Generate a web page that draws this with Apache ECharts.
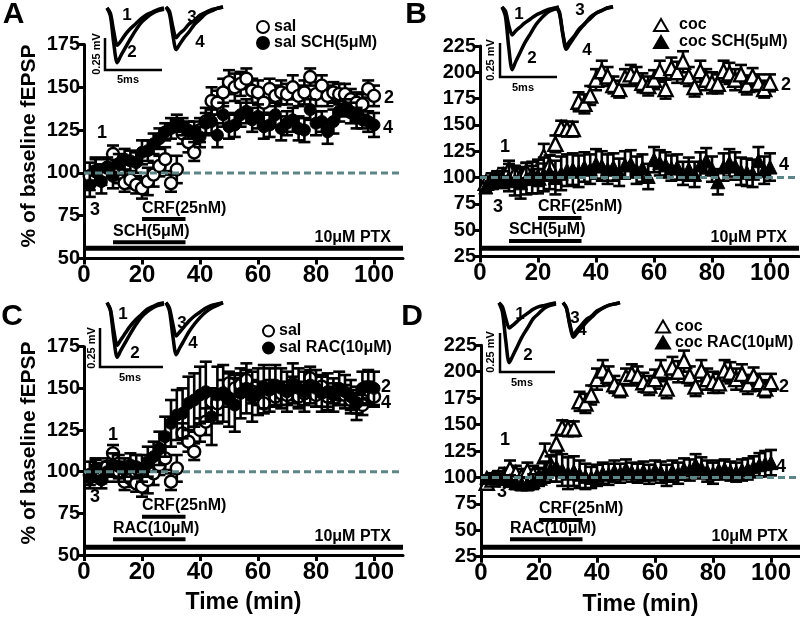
<!DOCTYPE html>
<html><head><meta charset="utf-8">
<script src="https://cdn.jsdelivr.net/npm/echarts@6/dist/echarts.min.js"></script>
<style>html,body{margin:0;padding:0;background:#fff}#c{width:800px;height:619px}</style>
</head><body><div id="c"></div>
<script>
// ---------- DATA ----------
const times = [2,4,6,8,10,12,14,16,18,20,22,24,26,28,30,32,34,36,38,40,42,44,46,48,50,52,54,56,58,60,62,64,66,68,70,72,74,76,78,80,82,84,86,88,90,92,94,96,98,100];
const xTicks = [0,20,40,60,80,100];
const yTicksSal = [50,75,100,125,150,175];
const yTicksCoc = [25,50,75,100,125,150,175,200,225];

const salVals = [98,101,99,103,111,100,94,96,93,91,95,99,104,108,94,102,123,118,112,125,130,142,141,147,153,150,152,155,148,147,141,149,145,147,146,150,145,147,156,146,151,145,147,146,146,143,141,140,149,145];
const salErr  = [8,7,6,5,5,6,5,5,5,6,8,7,6,7,5,8,6,6,5,7,8,8,7,8,7,8,7,6,7,7,6,6,6,7,6,7,6,7,5,7,6,6,6,6,6,6,6,6,5,6];
const salSchVals = [93,101,95,103,98,105,108,107,106,112,113,117,120,124,126,129,127,125,124,121,129,130,122,134,127,128,134,136,131,133,127,128,134,126,129,131,126,125,137,129,130,124,130,136,138,135,132,131,130,128];
const salSchErr  = [7,8,7,6,7,6,6,6,6,7,6,6,6,5,6,5,5,5,6,6,6,7,7,7,7,7,7,7,7,7,7,7,7,7,7,7,7,7,6,7,6,7,7,6,5,6,6,5,6,7];
const cocVals = [95,98,100,102,108,104,101,106,103,100,120,112,132,147,146,146,172,170,178,193,201,196,188,184,195,198,196,190,187,193,201,184,204,200,210,196,186,201,193,190,189,201,199,193,198,188,196,190,184,190];
const cocErr  = [6,6,6,7,8,7,7,8,8,8,12,9,8,7,7,7,9,9,9,10,10,9,8,8,8,9,9,9,9,9,10,9,10,10,10,9,9,10,10,10,9,10,10,10,9,9,8,8,8,8];
const cocSchVals = [91,95,97,98,100,97,95,99,100,101,103,105,100,104,107,108,106,110,108,113,111,108,110,105,112,113,107,109,101,117,114,112,109,110,104,108,103,112,116,108,96,110,114,111,106,105,104,116,107,110];
const cocSchErr  = [4,5,6,8,13,14,15,15,15,16,16,16,16,16,15,15,15,14,14,14,14,14,13,13,13,13,13,13,12,12,12,12,12,12,11,11,12,12,12,12,12,13,13,13,13,13,13,13,13,13];
const salRacVals = [96,102,95,100,104,103,101,104,103,102,106,109,114,121,129,134,135,141,143,146,148,133,146,147,143,140,147,150,145,148,151,149,152,150,148,153,150,148,152,150,147,148,146,150,148,145,141,150,151,150];
const salRacErr  = [4,5,5,6,7,7,7,7,7,8,9,9,10,12,14,15,15,16,16,17,18,17,17,17,16,16,15,15,15,14,13,13,12,12,12,12,12,12,11,11,11,11,10,10,10,10,10,10,10,10];
const cocRacVals = [100,100,100,99,97,95,94,94,96,101,105,108,110,107,104,106,103,101,100,102,104,103,106,104,108,105,104,106,103,107,105,102,106,104,108,107,112,109,106,104,107,108,106,105,107,108,110,112,113,114];
const cocRacErr  = [2,2,2,3,5,6,6,6,7,8,10,12,14,15,15,14,13,12,10,10,10,10,10,9,9,9,9,9,9,9,10,10,10,10,10,10,10,10,10,10,9,9,9,9,10,10,10,11,12,12];

const drugsA = [{name:'CRF(25nM)',from:20,to:35},{name:'SCH(5μM)',from:10,to:35},{name:'10μM PTX',from:0,to:110}];
const drugsB = [{name:'CRF(25nM)',from:20,to:35},{name:'SCH(5μM)',from:10,to:35},{name:'10μM PTX',from:0,to:110}];
const drugsC = [{name:'CRF(25nM)',from:20,to:35},{name:'RAC(10μM)',from:10,to:35},{name:'10μM PTX',from:0,to:110}];
const drugsD = [{name:'CRF(25nM)',from:20,to:35},{name:'RAC(10μM)',from:10,to:35},{name:'10μM PTX',from:0,to:110}];
const baselinePct = 100;

// inset fEPSP traces (ms, mV)
const traceT = [0,0.3,0.6,0.9,1.2,1.6,2.0,2.5,3.0,3.5,4.0,4.5,5.0];
const trA1 = [0,-0.04,-0.18,-0.28,-0.25,-0.2,-0.16,-0.12,-0.08,-0.05,-0.03,-0.01,0];
const trA2 = [0,-0.06,-0.27,-0.41,-0.36,-0.3,-0.24,-0.17,-0.11,-0.07,-0.04,-0.02,-0.01];
const trA3 = [0,-0.03,-0.15,-0.23,-0.2,-0.17,-0.13,-0.1,-0.06,-0.04,-0.02,-0.01,0];
const trA4 = [0,-0.05,-0.21,-0.32,-0.28,-0.23,-0.19,-0.13,-0.09,-0.05,-0.03,-0.01,0];
const trB1 = [0,-0.03,-0.14,-0.21,-0.18,-0.15,-0.12,-0.09,-0.06,-0.04,-0.02,-0.01,0];
const trB2 = [0,-0.07,-0.31,-0.47,-0.41,-0.34,-0.27,-0.2,-0.13,-0.08,-0.04,-0.02,-0.01];
const trB3 = [0,-0.04,-0.2,-0.3,-0.26,-0.22,-0.17,-0.13,-0.08,-0.05,-0.03,-0.01,0];
const trB4 = [0,-0.05,-0.21,-0.32,-0.28,-0.23,-0.18,-0.13,-0.09,-0.05,-0.03,-0.01,0];
const trC1 = [0,-0.05,-0.21,-0.32,-0.28,-0.23,-0.18,-0.13,-0.09,-0.05,-0.03,-0.01,0];
const trC2 = [0,-0.06,-0.27,-0.41,-0.36,-0.3,-0.24,-0.17,-0.11,-0.07,-0.04,-0.02,-0.01];
const trC3 = [0,-0.04,-0.16,-0.25,-0.22,-0.18,-0.14,-0.1,-0.07,-0.04,-0.02,-0.01,0];
const trC4 = [0,-0.06,-0.25,-0.39,-0.34,-0.28,-0.22,-0.16,-0.11,-0.07,-0.04,-0.02,0];
const trD1 = [0,-0.03,-0.12,-0.19,-0.17,-0.14,-0.11,-0.08,-0.05,-0.03,-0.02,-0.01,0];
const trD2 = [0,-0.07,-0.29,-0.45,-0.4,-0.33,-0.26,-0.19,-0.12,-0.08,-0.04,-0.02,-0.01];
const trD3 = [0,-0.04,-0.16,-0.24,-0.21,-0.17,-0.13,-0.1,-0.06,-0.04,-0.02,-0.01,0];
const trD4 = [0,-0.04,-0.17,-0.26,-0.23,-0.19,-0.15,-0.11,-0.07,-0.04,-0.02,-0.01,0];

// ---------- BUILD ----------
const FONT = '"Liberation Sans", Arial, sans-serif';
const panels = [
  {grid:{left:84,top:44.5,width:319,height:214}, yMin:50, yMax:175,
   open:{name:'sal',sym:'circle',size:12,vals:salVals,errs:salErr},
   filled:{name:'sal SCH(5μM)',sym:'circle',size:12,vals:salSchVals,errs:salSchErr},
   drugs:drugsA, drugY:[73,59.5,56], xName:'',
   legend:{left:251,top:14,itemWidth:12,itemHeight:12,lh:16,pad:0}},
  {grid:{left:480,top:46,width:319,height:210.5}, yMin:25, yMax:225,
   open:{name:'coc',sym:'triangle',size:14,vals:cocVals,errs:cocErr},
   filled:{name:'coc SCH(5μM)',sym:'triangle',size:14,vals:cocSchVals,errs:cocSchErr},
   drugs:drugsB, drugY:[61.5,39.8,32.8], xName:'',
   legend:{left:648,top:11.5,itemWidth:14,itemHeight:12,lh:17,pad:6}},
  {grid:{left:84,top:346.7,width:319,height:208.3}, yMin:50, yMax:175,
   open:{name:'sal',sym:'circle',size:12,vals:salVals,errs:salErr},
   filled:{name:'sal RAC(10μM)',sym:'circle',size:12,vals:salRacVals,errs:salRacErr},
   drugs:drugsC, drugY:[73,59.4,54.6], xName:'Time (min)',
   legend:{left:257,top:317.5,itemWidth:11,itemHeight:11,lh:17,pad:0}},
  {grid:{left:481,top:345.3,width:319,height:211.4}, yMin:25, yMax:225,
   open:{name:'coc',sym:'triangle',size:14,vals:cocVals,errs:cocErr},
   filled:{name:'coc RAC(10μM)',sym:'triangle',size:14,vals:cocRacVals,errs:cocRacErr},
   drugs:drugsD, drugY:[59.8,41.5,33.9], xName:'Time (min)',
   legend:{left:650,top:313.5,itemWidth:14,itemHeight:12,lh:13,pad:0}}
];
const insets = [
  {left:107,top:1.3,tr:[trA1,trA2]},{left:166,top:0.3,tr:[trA3,trA4]},
  {left:502,top:0.3,tr:[trB1,trB2]},{left:556,top:0,tr:[trB3,trB4]},
  {left:107,top:296,tr:[trC1,trC2]},{left:166,top:296,tr:[trC3,trC4]},
  {left:499,top:296,tr:[trD1,trD2]},{left:563,top:296,tr:[trD3,trD4]}
];

function errRender(params, api){
  const x=api.value(0), y=api.value(1), e=api.value(2);
  const hi=api.coord([x,y+e]), lo=api.coord([x,y-e]);
  const hw=6;
  const st=()=>({stroke:'#000',lineWidth:2.6});
  return {type:'group',children:[
    {type:'line',shape:{x1:hi[0],y1:hi[1],x2:lo[0],y2:lo[1]},style:st()},
    {type:'line',shape:{x1:hi[0]-hw,y1:hi[1],x2:hi[0]+hw,y2:hi[1]},style:st()},
    {type:'line',shape:{x1:lo[0]-hw,y1:lo[1],x2:lo[0]+hw,y2:lo[1]},style:st()}]};
}

const grid=[], xAxis=[], yAxis=[], series=[], legend=[];
panels.forEach((p,i)=>{
  grid.push(Object.assign({containLabel:false}, p.grid));
  xAxis.push({type:'value',gridIndex:i,min:0,max:110,
    axisLine:{show:true,lineStyle:{color:'#000',width:3}},
    axisTick:{show:true,length:6,lineStyle:{color:'#000',width:3},customValues:xTicks},
    axisLabel:{customValues:xTicks,fontSize:24,fontWeight:'bold',color:'#000',fontFamily:FONT,margin:5,
      formatter:v=>v>100?'':String(v)},
    splitLine:{show:false},
    name:p.xName,nameLocation:'middle',nameGap:36,
    nameTextStyle:{fontSize:23,fontWeight:'bold',color:'#000',fontFamily:FONT}});
  yAxis.push({type:'value',gridIndex:i,min:p.yMin,max:p.yMax,interval:25,
    axisLine:{show:true,lineStyle:{color:'#000',width:3}},
    axisTick:{show:true,length:6,lineStyle:{color:'#000',width:3}},
    axisLabel:{fontSize:20,fontWeight:'bold',color:'#000',fontFamily:FONT,margin:4},
    splitLine:{show:false}});
  const mk=(s)=>times.map((t,k)=>[t,s.vals[k]]);
  const mkE=(s)=>times.map((t,k)=>[t,s.vals[k],s.errs[k]]);
  series.push({type:'custom',name:p.open.name+' err'+i,xAxisIndex:i,yAxisIndex:i,z:2,silent:true,
    renderItem:errRender,encode:{x:0,y:1},data:mkE(p.open)});
  series.push({type:'scatter',name:p.open.name,xAxisIndex:i,yAxisIndex:i,z:3,symbol:p.open.sym,symbolSize:p.open.size,
    itemStyle:{color:'#fff',borderColor:'#000',borderWidth:2.4,opacity:1},data:mk(p.open)});
  series.push({type:'custom',name:p.filled.name+' err'+i,xAxisIndex:i,yAxisIndex:i,z:4,silent:true,
    renderItem:errRender,encode:{x:0,y:1},data:mkE(p.filled)});
  series.push({type:'scatter',name:p.filled.name,xAxisIndex:i,yAxisIndex:i,z:5,symbol:p.filled.sym,symbolSize:p.filled.size,
    itemStyle:{color:'#000',borderColor:'#000',borderWidth:1,opacity:1},data:mk(p.filled)});
  series.push({type:'line',name:'baseline'+i,xAxisIndex:i,yAxisIndex:i,z:10,silent:true,showSymbol:false,symbol:'none',
    lineStyle:{color:'#5e8585',width:3,type:[7,4]},data:[[0,baselinePct],[110,baselinePct]]});
  series.push({type:'custom',name:'drugs'+i,xAxisIndex:i,yAxisIndex:i,z:6,silent:true,
    data:p.drugs.map((d,k)=>[d.from,d.to,p.drugY[k],k]),
    renderItem:(params,api)=>{
      const d=p.drugs[api.value(3)];
      const a=api.coord([api.value(0),api.value(2)]), b=api.coord([api.value(1),api.value(2)]);
      const ptx=d.from===0;
      return {type:'group',children:[
        {type:'line',shape:{x1:a[0],y1:a[1],x2:b[0],y2:b[1]},style:{stroke:'#000',lineWidth:ptx?5:4}},
        {type:'text',style:{text:d.name,x:ptx?b[0]-12:a[0],y:a[1]-3,align:ptx?'right':'left',verticalAlign:'bottom',
          font:'bold 16px '+FONT,fill:'#000'}}]};
    }});
  legend.push({left:p.legend.left,top:p.legend.top,orient:'vertical',itemGap:0,
    itemWidth:p.legend.itemWidth,itemHeight:p.legend.itemHeight,selectedMode:false,
    data:[p.open.name,p.filled.name],
    textStyle:{fontSize:16,fontWeight:'bold',color:'#000',fontFamily:FONT,lineHeight:p.legend.lh,padding:[0,0,0,p.legend.pad]}});
});
insets.forEach((ins,j)=>{
  const gi=4+j;
  grid.push({left:ins.left,top:ins.top,width:57,height:80,containLabel:false});
  xAxis.push({type:'value',gridIndex:gi,min:0,max:5,show:false});
  yAxis.push({type:'value',gridIndex:gi,min:-0.55,max:0.05,show:false});
  ins.tr.forEach((tr,m)=>{
    series.push({type:'line',name:'trace'+j+'_'+m,xAxisIndex:gi,yAxisIndex:gi,z:3,silent:true,showSymbol:false,symbol:'none',
      smooth:0.3,lineStyle:{color:'#000',width:3.5},data:traceT.map((t,k)=>[t,tr[k]])});
  });
});

const txt=(x,y,t,size,opt)=>Object.assign({type:'text',x:x,y:y,z:20,
  style:{text:t,font:'bold '+size+'px '+FONT,fill:'#000',align:'center',verticalAlign:'middle'}},opt||{});
const bar=(pts)=>({type:'polyline',z:20,shape:{points:pts},style:{stroke:'#000',lineWidth:2.5,fill:null}});
const graphic=[
  txt(13.5,15,'A',30), txt(416,15,'B',30), txt(12,317,'C',30), txt(412,317,'D',30),
  txt(29,146,'% of baseline fEPSP',21,{rotation:Math.PI/2}),
  txt(29,443,'% of baseline fEPSP',21,{rotation:Math.PI/2}),
  // data-point labels
  txt(102,133,'1',18), txt(95,210,'3',18), txt(389,98,'2',18), txt(388,128,'4',18),
  txt(505,147,'1',18), txt(498,207,'3',18), txt(786,85,'2',18), txt(784,165,'4',18),
  txt(113,435,'1',18), txt(95,497,'3',18), txt(386,387,'2',18), txt(386,403,'4',18),
  txt(505,440,'1',18), txt(502,492,'3',18), txt(784,387,'2',18), txt(781,467,'4',18),
  // trace labels
  txt(127,15,'1',17), txt(132,52,'2',17), txt(192,17,'3',17), txt(200,42,'4',17),
  txt(519,14,'1',17), txt(532,58,'2',17), txt(580,10,'3',17), txt(587,50,'4',17),
  txt(123,314,'1',17), txt(135,353,'2',17), txt(182,323,'3',17), txt(193,343,'4',17),
  txt(520,314,'1',17), txt(528,355,'2',17), txt(575,318,'3',17), txt(582,330,'4',17),
  // scale bars
  bar([[105,38],[105,70],[162,70]]), txt(97,54,'0.25 mV',11,{rotation:Math.PI/2}), txt(128,80,'5ms',11),
  bar([[500,43],[500,77],[557,77]]), txt(491,60,'0.25 mV',11,{rotation:Math.PI/2}), txt(523,88,'5ms',11),
  bar([[100,328],[100,367],[163,367]]), txt(92,348,'0.25 mV',11,{rotation:Math.PI/2}), txt(130,378,'5ms',11),
  bar([[500,333],[500,372],[555,372]]), txt(491,352,'0.25 mV',11,{rotation:Math.PI/2}), txt(522,383,'5ms',11)
];

const chart = echarts.init(document.getElementById('c'));
chart.setOption({animation:false,backgroundColor:'#fff',grid,xAxis,yAxis,series,legend,graphic});
</script></body></html>
